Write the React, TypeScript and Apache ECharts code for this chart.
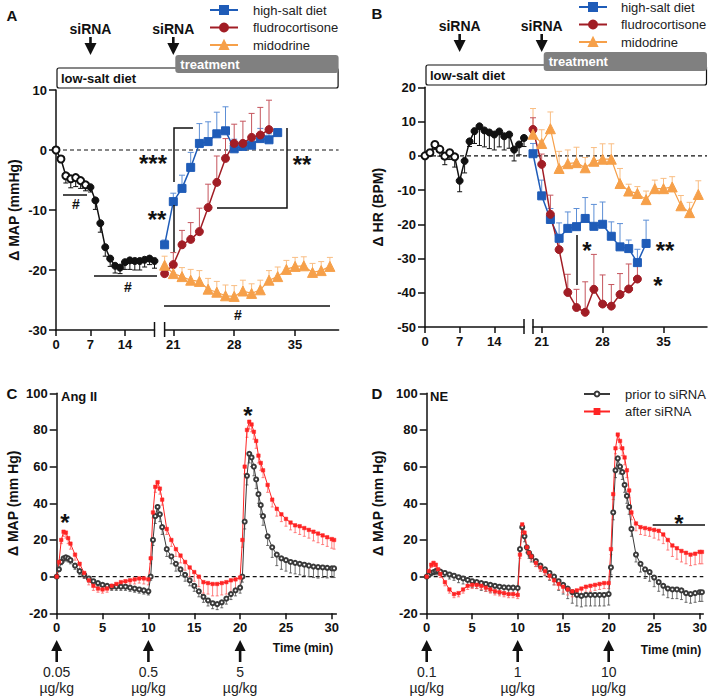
import React, { useEffect, useRef } from "react";
import * as echarts from "echarts";

const FONT = "'Liberation Sans', Arial, Helvetica, sans-serif";
const BLK = "#111111";
const BLUE = "#1f5cb8";
const BLUE_E = "#5d8fd6";
const RED = "#a11d25";
const RED_E = "#c5555d";
const ORANGE = "#f6a04a";
const ORANGE_E = "#f9bd82";
const GREY_LINE = "#3a3a3a";
const GREY_E = "#4a4a4a";
const BRED = "#ff2424";
const BRED_E = "#ff6262";

// ---------- Panel A: delta MAP (mmHg) ----------
const aPreDays = [0, 1, 2, 3, 4, 5, 6, 7, 8, 9, 10, 11, 12, 13, 14, 15, 16, 17, 18, 19, 20];
const aPre = [0, -1.5, -4.3, -4.8, -4.6, -5.1, -5.8, -6.2, -8.4, -12.2, -16.2, -18.1, -19.3, -19.6, -18.7, -18.4, -18.5, -18.5, -18.3, -18.1, -18.5];
const aPreErr = [0, -0.5, -1.2, -1.5, -1.5, -1.3, -1.0, -0.8, -1.5, -1.5, -1.5, -1.3, -1.2, -1.0, -1.2, -1.5, -1.5, -1.5, -1.2, -1.0, -1.2];
const aHsDays = [20, 21, 22, 23, 24, 25, 26, 27, 28, 29, 30, 31, 32, 33];
const aHs = [-15.8, -8.6, -6.4, -2.9, 1.1, 1.4, 2.7, 3.2, 0.2, 0.6, 0.8, 1.9, 1.7, 2.9];
const aHsErr = [0.8, 1.4, 2.2, 2.5, 3.3, 3.3, 3.6, 4.0, 1.6, 1.0, 1.0, 1.7, 1.0, 0.6];
const aFlDays = [20, 21, 22, 23, 24, 25, 26, 27, 28, 29, 30, 31, 32];
const aFl = [-20.6, -19.1, -15.8, -14.9, -13.6, -9.6, -5.4, -1.4, 1.1, 1.1, 2.1, 2.5, 3.4];
const aFlErr = [0.5, 2.0, 2.4, 2.8, 3.9, 3.9, 4.4, 3.3, 3.2, 3.7, 4.0, 4.6, 4.9];
const aMiDays = [20, 21, 22, 23, 24, 25, 26, 27, 28, 29, 30, 31, 32, 33, 34, 35, 36, 37, 38, 39];
const aMi = [-19.2, -20.6, -21.1, -21.7, -21.9, -23.2, -23.7, -24.3, -24.4, -23.5, -23.9, -23.3, -21.7, -21.1, -19.9, -19.4, -19.3, -20.4, -20.1, -19.4];
const aMiErr = [1.5, 1.5, 1.5, 1.8, 1.8, 1.8, 1.8, 1.8, 1.8, 1.8, 1.6, 1.6, 1.6, 1.6, 1.5, 1.5, 1.5, 1.5, 1.5, 1.5];

// ---------- Panel B: delta HR (BPM) ----------
const bPreDays = [0, 1, 2, 3, 4, 5, 6, 7, 8, 9, 10, 11, 12, 13, 14, 15, 16, 17, 18, 19, 20];
const bPre = [0, 0.9, 3.3, 1.9, -0.1, 0.9, -0.3, -7.3, -1.5, 4.2, 7.2, 8.6, 7.4, 6.8, 6.2, 7.1, 5.7, 6.2, 1.8, 3.3, 5.2];
const bPreErr = [0, -1, -1.5, -2, -2.5, -2, -3, -3.2, -3.5, -1.5, -3.6, -5.6, -4.8, -4.7, -4.5, -4.5, -4, -4, -3.3, -3, -2.5];
const bHsDays = [20, 21, 22, 23, 24, 25, 26, 27, 28, 29, 30, 31, 32, 33];
const bHs = [0.6, -11.7, -18.6, -24.1, -21.2, -20.7, -18.3, -20.6, -20, -23.5, -26.6, -27.1, -31.2, -25.6];
const bHsErr = [3, 4.6, 3.2, 4.5, 4.8, 5.3, 6.1, 6.4, 6.5, 4.2, 6.8, 2.5, 3.9, 6.8];
const bFlDays = [20, 21, 22, 23, 24, 25, 26, 27, 28, 29, 30, 31, 32];
const bFl = [7.7, -2.5, -17.1, -27.4, -39.9, -44.3, -45.7, -39, -43.3, -43.9, -40.5, -38.9, -36];
const bFlErr = [3.4, 3, 5.6, 4, 5.3, 5.3, 8.9, 10.2, 8.5, 6.3, 6.1, 7.3, 4.4];
const bMiDays = [20, 21, 22, 23, 24, 25, 26, 27, 28, 29, 30, 31, 32, 33, 34, 35, 36, 37, 38, 39];
const bMi = [6.3, 3.6, 7.9, -3.7, -2.3, -2, -3.5, -1.6, -1, -1, -8.1, -10.3, -11, -12.8, -9.6, -9.6, -9.1, -14.6, -16.6, -11.3];
const bMiErr = [7.5, 4, 4.9, 5, 4, 4.5, 3, 4, 4.5, 4.5, 4.4, 2, 2, 2.5, 2.5, 3, 3, 3, 3, 4];

// ---------- Panels C & D: time course (min) ----------
const tMin = [0, 0.25, 0.5, 0.75, 1, 1.25, 1.5,
  2, 2.5, 3, 3.5, 4, 4.5, 5, 5.5, 6, 6.5, 7, 7.5, 8, 8.5, 9, 9.5, 10,
  10.25, 10.5, 10.75, 11, 11.25, 11.5,
  12, 12.5, 13, 13.5, 14, 14.5, 15, 15.5, 16, 16.5, 17, 17.5, 18, 18.5, 19, 19.5, 20,
  20.25, 20.5, 20.75, 21, 21.25, 21.5, 21.75, 22, 22.25, 22.5,
  23, 23.5, 24, 24.5, 25, 25.5, 26, 26.5, 27, 27.5, 28, 28.5, 29, 29.5, 30, 30.25];

const cPrior = [0, 4, 8, 10, 10.5, 10, 9,
  6, 3, 1, -1, -2.5, -3.5, -4.5, -5, -5.5, -5.5, -5.5, -5.5, -6, -6.5, -7, -7.5, -8,
  0, 20, 33, 38, 34, 27,
  15, 11, 7, 4, 1, -2, -5, -8, -11, -13, -14.5, -15, -14, -12, -9.5, -7.5, -6,
  0, 30, 55, 67, 65, 60, 53, 45, 39, 33,
  22, 16, 12, 10, 9, 8, 7.5, 7, 6.5, 6, 5.5, 5.2, 5, 4.8, 4.5, 4.5];
const cPriorErr = [0, -1, -1.5, -2, -2, -2, -2,
  -2, -2, -2, -2, -2, -2, -2, -2, -2, -2, -2, -2, -2, -2, -2, -2, -2,
  -2, -3, -4, -4, -4, -4,
  -4, -4, -4, -3.5, -3.5, -3, -3, -3, -3, -3, -3, -3, -3, -3, -3, -3, -3,
  -3, -4, -5, -5, -5, -5, -5, -5, -5, -5,
  -5, -5.5, -6, -6, -6, -6, -6, -6, -6, -6, -6, -6, -5.5, -5.5, -5, -5];
const cAfter = [0, 8, 20, 24.5, 24, 21, 18,
  12, 7, 2, -2, -5, -6.5, -7, -6.5, -5, -4, -3, -2.5, -2, -1.5, -1, -1, -1.5,
  10, 35, 49, 51.5, 48, 42,
  26, 20, 15, 11.5, 8, 5, 2.5, 0, -3, -3.5, -4, -4, -3.5, -3, -2, -1.5, -0.5,
  20, 60, 80, 84.5, 83, 79, 74, 66, 62, 58,
  50, 42, 37, 34, 31.5, 29.5, 28, 27.5, 26.5, 25.5, 24.5, 23.5, 22.5, 21.5, 20.5, 20];
const cAfterErr = [0, -1.5, -2, -2.5, -3, -3, -3,
  -3, -3, -2.5, -2.5, -2.5, -2, -2, -2, -2, -2, -2, -2, -2, -2.5, -2.5, -3, -3,
  -3, -3, -3, -3, -3, -3,
  -3, -3.5, -4, -4, -4.5, -5, -5, -5.5, -6, -6, -6.5, -6.5, -6.5, -6.5, -6.5, -6.5, -6,
  -4, -4, -4, -4, -4, -4, -4, -4, -4, -4,
  -4, -4, -4, -4, -4, -4, -4, -4.5, -4.5, -4.5, -5, -5, -5, -5, -5, -5];

const dPrior = [0, 1, 2, 2.5, 3, 3, 2.8,
  2, 1.2, 0.5, -0.3, -1, -1.8, -2.5, -3, -3.5, -4, -4.5, -5, -5.5, -5.8, -6, -6, -6.2,
  15, 27, 22, 16, 13, 11,
  8.5, 6, 4, 2, 0, -2.5, -4.5, -6.5, -8.5, -10, -10.5, -10, -10, -10, -10, -10, -9.5,
  5, 35, 58, 64.5, 60, 57, 50, 44, 38, 26,
  12, 7, 4, 2.5, -0.5, -3, -5, -6.5, -7, -7, -7.5, -9, -9.5, -9, -8.5, -8.5];
const dPriorErr = [0, -1, -1.5, -1.5, -2, -2, -2,
  -2, -2.5, -2.5, -3, -3, -3, -3.5, -3.5, -4, -4, -4, -4, -4, -4, -4, -4, -4,
  -3, -3, -3, -3, -3, -3,
  -3, -3, -3.5, -4, -4.5, -5, -5, -5.5, -6, -6, -6, -6, -6, -6, -6, -6, -6,
  -4, -4, -4, -4, -4, -4, -4, -4, -4, -4,
  -4, -4.5, -5, -5, -5, -5, -5, -5, -5, -5, -5, -5, -5, -5, -5, -5];
const dAfter = [0, 3, 6.5, 7.5, 6.5, 4, 1.5,
  -3, -7, -9.5, -9, -7, -5, -4.5, -4.5, -5, -6, -7, -8, -8.5, -9, -9.5, -9.5, -10,
  12, 28.5, 24, 16, 13, 11,
  7.5, 5, 3, 0.5, -2, -4, -5.5, -7, -8, -7.5, -6.5, -5.5, -5, -4.5, -4, -3.5, -3.5,
  15, 45, 70, 77.5, 74, 70, 65, 58, 47, 35,
  29, 27, 26.5, 26, 25.5, 25, 23, 20, 17, 15.5, 14, 13, 12, 12.5, 13.5, 13.5];
const dAfterErr = [0, -1, -1.5, -2, -2, -2, -2,
  -2, -2, -2, -2, -2, -2, -2, -2, -2, -2, -2, -2, -2, -2, -2, -2, -2,
  -2, -2, -2, -2, -2, -2,
  -2, -2, -2, -2, -2.5, -3, -3, -3, -3, -3, -3, -3, -3, -3, -3, -3, -3,
  -3, -3, -3, -3, -4, -4, -4, -4, -4, -4,
  -4, -4, -4, -4, -4.5, -5, -5, -5.5, -6, -6, -6, -6, -6, -6, -6.5, -6.5];

// ---------- tick labels ----------
const dayTicksPre = [0, 7, 14];
const dayTicksPost = [21, 28, 35];
const timeTicks = [0, 5, 10, 15, 20, 25, 30];
const doseTimes = [0, 10, 20];
const cDoses = ["0.05", "0.5", "5"];
const dDoses = ["0.1", "1", "10"];
const siRNADays = [7, 21];
const groupNames = ["high-salt diet", "fludrocortisone", "midodrine"];
const timeNames = ["prior to siRNA", "after siRNA"];

// ---------- helpers ----------
const zip = (xs: number[], ys: number[]) => xs.map((x, i) => [x, ys[i]]);

function errSeries(gi: number, xs: number[], ys: number[], es: number[], color: string, cap: number, lw: number) {
  return {
    type: "custom",
    name: "err" + gi + color,
    xAxisIndex: gi,
    yAxisIndex: gi,
    silent: true,
    z: 3,
    clip: false,
    encode: { x: 0, y: 1 },
    data: xs.map((x, i) => [x, ys[i], es[i]]),
    renderItem: (params: any, api: any) => {
      const x = api.value(0);
      const y = api.value(1);
      const e = api.value(2);
      const p0 = api.coord([x, y]);
      const p1 = api.coord([x, y + e]);
      const st = { stroke: color, lineWidth: lw };
      return {
        type: "group",
        children: [
          { type: "line", shape: { x1: p0[0], y1: p0[1], x2: p1[0], y2: p1[1] }, style: st },
          { type: "line", shape: { x1: p1[0] - cap, y1: p1[1], x2: p1[0] + cap, y2: p1[1] }, style: st },
        ],
      };
    },
  };
}

function lineSeries(name: string, gi: number, xs: number[], ys: number[], color: string, symbol: any, size: number, lw: number, borderW = 1) {
  return {
    type: "line",
    name,
    xAxisIndex: gi,
    yAxisIndex: gi,
    data: zip(xs, ys),
    symbol,
    symbolSize: size,
    showSymbol: true,
    lineStyle: { color, width: lw },
    itemStyle: { color, borderColor: color, borderWidth: borderW },
    z: 4,
    silent: true,
    emphasis: { disabled: true },
  };
}

const axisLineStyle = { color: BLK, width: 1.5 };
const labelStyle = { color: BLK, fontFamily: FONT, fontWeight: "bold", fontSize: 13 };

function xAxisDef(gi: number, min: number, max: number, ticks: number[]) {
  return {
    gridIndex: gi,
    type: "value",
    min,
    max,
    axisLine: { show: true, onZero: false, lineStyle: axisLineStyle },
    axisTick: { show: true, length: 6, lineStyle: axisLineStyle, customValues: ticks },
    axisLabel: { ...labelStyle, margin: 8, customValues: ticks },
    splitLine: { show: false },
  };
}

function yAxisDef(gi: number, min: number, max: number, interval: number, name: string, nameGap: number, show = true) {
  return {
    gridIndex: gi,
    type: "value",
    show,
    min,
    max,
    interval,
    name,
    nameLocation: "middle",
    nameGap,
    nameTextStyle: { fontFamily: FONT, fontWeight: "bold", fontSize: 14, color: BLK },
    axisLine: { show: true, onZero: false, lineStyle: axisLineStyle },
    axisTick: { show: true, length: 7, lineStyle: axisLineStyle },
    axisLabel: { ...labelStyle, margin: 9 },
    splitLine: { show: false },
  };
}

function gridDef(left: number, top: number, width: number, height: number) {
  return { left, top, width, height, containLabel: false, outerBoundsMode: "none" };
}

function legendDef(names: string[], left: number, top: number, itemWidth: number, itemHeight: number, padLeft: number) {
  return {
    data: names,
    left,
    top,
    orient: "vertical",
    padding: 0,
    itemWidth,
    itemHeight,
    itemGap: 4.5,
    selectedMode: false,
    textStyle: { fontFamily: FONT, fontSize: 13, color: "#222", padding: [0, 0, 0, padLeft] },
  };
}

const txt = (text: string, x: number, y: number, size: number, weight = "bold", align = "center", color = BLK) => ({
  type: "text",
  x,
  y,
  z: 20,
  silent: true,
  style: { text, font: `${weight} ${size}px ${FONT}`, fill: color, textAlign: align, textVerticalAlign: "middle", align, verticalAlign: "middle" },
});
const star = (text: string, x: number, y: number, size = 24) => txt(text, x, y + size * 0.22, size);
const seg = (x1: number, y1: number, x2: number, y2: number, lw = 1.5, color = BLK) => ({
  type: "line",
  z: 20,
  silent: true,
  shape: { x1, y1, x2, y2 },
  style: { stroke: color, lineWidth: lw },
});
const poly = (points: number[][], lw = 1.5) => ({
  type: "polyline",
  z: 20,
  silent: true,
  shape: { points },
  style: { stroke: BLK, lineWidth: lw, fill: null },
});
function arrow(x: number, yTail: number, yTip: number, headLen: number, headW: number, lw: number) {
  const dir = Math.sign(yTip - yTail);
  const hb = yTip - dir * headLen;
  return [
    seg(x, yTail, x, hb + dir * 1, lw),
    { type: "polygon", z: 20, silent: true, shape: { points: [[x - headW / 2, hb], [x + headW / 2, hb], [x, yTip]] }, style: { fill: BLK } },
  ];
}
const dashed = (p0: number[], p1: number[]) => ({
  type: "line",
  z: 1,
  silent: true,
  shape: { x1: p0[0], y1: p0[1], x2: p1[0], y2: p1[1] },
  style: { stroke: BLK, lineWidth: 1.2, lineDash: [4, 3] },
});

function buildOption() {
  const series: any[] = [
    // Panel A
    errSeries(0, aPreDays, aPre, aPreErr, BLK, 2.5, 1),
    lineSeries("A-baseline", 0, aPreDays, aPre, BLK, (v: any, p: any) => (p.dataIndex < 7 ? "emptyCircle" : "circle"), 7, 1.5),
    errSeries(1, aMiDays, aMi, aMiErr, ORANGE_E, 3, 1),
    errSeries(1, aHsDays, aHs, aHsErr, BLUE_E, 3, 1),
    errSeries(1, aFlDays, aFl, aFlErr, RED_E, 3, 1),
    lineSeries(groupNames[0], 1, aHsDays, aHs, BLUE, "rect", 8, 1.5),
    lineSeries(groupNames[1], 1, aFlDays, aFl, RED, "circle", 8, 1.5),
    lineSeries(groupNames[2], 1, aMiDays, aMi, ORANGE, "triangle", 10, 1.2),
    // Panel B
    errSeries(2, bPreDays, bPre, bPreErr, BLK, 2.5, 1),
    lineSeries("B-baseline", 2, bPreDays, bPre, BLK, (v: any, p: any) => (p.dataIndex < 7 ? "emptyCircle" : "circle"), 7, 1.5),
    errSeries(3, bMiDays, bMi, bMiErr, ORANGE_E, 3, 1),
    errSeries(3, bHsDays, bHs, bHsErr, BLUE_E, 3, 1),
    errSeries(3, bFlDays, bFl, bFlErr, RED_E, 3, 1),
    lineSeries(groupNames[0], 3, bHsDays, bHs, BLUE, "rect", 8, 1.5),
    lineSeries(groupNames[1], 3, bFlDays, bFl, RED, "circle", 8, 1.5),
    lineSeries(groupNames[2], 3, bMiDays, bMi, ORANGE, "triangle", 10, 1.2),
    // Panel C
    errSeries(4, tMin, cPrior, cPriorErr, GREY_E, 1.5, 0.8),
    errSeries(4, tMin, cAfter, cAfterErr, BRED_E, 1.5, 0.8),
    lineSeries(timeNames[0], 4, tMin, cPrior, GREY_LINE, "emptyCircle", 4, 1, 0.8),
    lineSeries(timeNames[1], 4, tMin, cAfter, BRED, "rect", 3.5, 1, 0.5),
    // Panel D
    errSeries(5, tMin, dPrior, dPriorErr, GREY_E, 1.5, 0.8),
    errSeries(5, tMin, dAfter, dAfterErr, BRED_E, 1.5, 0.8),
    lineSeries(timeNames[0], 5, tMin, dPrior, GREY_LINE, "emptyCircle", 4, 1, 0.8),
    lineSeries(timeNames[1], 5, tMin, dAfter, BRED, "rect", 3.5, 1, 0.5),
  ];
  return {
    animation: false,
    backgroundColor: "#ffffff",
    textStyle: { fontFamily: FONT },
    grid: [
      gridDef(56, 90, 98.5, 240),
      gridDef(164.6, 90, 174, 240),
      gridDef(425, 87.3, 99, 239.7),
      gridDef(533, 87.3, 174, 239.7),
      gridDef(56.7, 393.3, 279.7, 220),
      gridDef(426.7, 393.3, 276.6, 220),
    ],
    xAxis: [
      xAxisDef(0, 0, 20, dayTicksPre),
      xAxisDef(1, 20, 40, dayTicksPost),
      xAxisDef(2, 0, 20, dayTicksPre),
      xAxisDef(3, 20, 40, dayTicksPost),
      xAxisDef(4, 0, 30.5, timeTicks),
      xAxisDef(5, 0, 30.4, timeTicks),
    ],
    yAxis: [
      yAxisDef(0, -30, 10, 10, "Δ MAP (mmHg)", 35),
      yAxisDef(1, -30, 10, 10, "", 0, false),
      yAxisDef(2, -50, 20, 10, "Δ HR (BPM)", 40),
      yAxisDef(3, -50, 20, 10, "", 0, false),
      yAxisDef(4, -20, 100, 20, "Δ MAP (mm Hg)", 37),
      yAxisDef(5, -20, 100, 20, "Δ MAP (mm Hg)", 42),
    ],
    legend: [
      legendDef(groupNames, 209, 3.5, 28, 10, 10),
      legendDef(groupNames, 578, 0.5, 28, 10, 9),
      legendDef(timeNames, 583, 387.5, 26, 6, 10),
    ],
    series,
  };
}

function buildGraphics(px: (gi: number, x: number, y: number) => number[]) {
  const els: any[] = [];
  // panel letters
  els.push(txt("A", 12, 15, 15), txt("B", 377, 13, 15), txt("C", 12, 393, 15), txt("D", 377, 393, 15));

  // zero dashed lines
  els.push(dashed(px(0, 0, 0), px(1, 40, 0)));
  els.push(dashed(px(2, 0, 0), px(3, 40, 0)));
  els.push(dashed(px(4, 0, 0), px(4, 30.5, 0)));
  els.push(dashed(px(5, 0, 0), px(5, 30.4, 0)));

  // axis breaks
  for (const [gPre, gPost] of [[0, 1], [2, 3]]) {
    const a = px(gPre, 20, gPre === 0 ? -30 : -50);
    const b = px(gPost, 20, gPost === 1 ? -30 : -50);
    els.push(seg(a[0], a[1] - 8, a[0], a[1] + 7, 1.5));
    els.push(seg(b[0], b[1] - 8, b[0], b[1] + 7, 1.5));
  }

  // Panel A / B headers
  const headers = [
    { gPre: 0, gPost: 1, textY: 29, arrowTop: 37, arrowTip: 55, boxTop: 68, boxH: 20, trTop: 55, trH: 18 },
    { gPre: 2, gPost: 3, textY: 26, arrowTop: 34, arrowTip: 52, boxTop: 65, boxH: 20, trTop: 52, trH: 19 },
  ];
  for (const h of headers) {
    const xs = [px(h.gPre, siRNADays[0], 0)[0], px(h.gPost, siRNADays[1], 0)[0]];
    for (const x of xs) {
      els.push(txt("siRNA", x, h.textY, 14));
      els.push(...arrow(x, h.arrowTop, h.arrowTip, 12, 12, 2.6));
    }
    const left = px(h.gPre, 0, 0)[0] + 1;
    const right = px(h.gPost, 40, 0)[0] - 0.5;
    els.push({ type: "rect", z: 15, silent: true, shape: { x: left, y: h.boxTop, width: right - left, height: h.boxH, r: 2 }, style: { fill: "#ffffff", stroke: BLK, lineWidth: 1.2 } });
    els.push(txt("low-salt diet", left + 4, h.boxTop + h.boxH / 2, 13, "bold", "left"));
    const tl = xs[1] + 2;
    els.push({ type: "rect", z: 16, silent: true, shape: { x: tl, y: h.trTop, width: right - tl + 0.5, height: h.trH, r: 3 }, style: { fill: "#808080" } });
    els.push(txt("treatment", tl + 5, h.trTop + h.trH / 2, 13, "bold", "left", "#ffffff"));
  }

  // Panel A annotations
  els.push(seg(63, 195, 87, 195), txt("#", 76, 204, 14));
  els.push(seg(94, 276, 157, 276), txt("#", 128, 287, 14));
  els.push(seg(164, 306, 330, 306), txt("#", 238, 315, 14));
  els.push(poly([[193, 128], [174, 128], [174, 182]]));
  els.push(seg(174, 205, 174, 252));
  els.push(star("***", 153, 158), star("**", 157, 214));
  els.push(poly([[287, 128], [287, 208], [217, 208]]));
  els.push(star("**", 302, 159));

  // Panel B annotations
  els.push(seg(577, 235, 577, 285));
  els.push(star("*", 587, 245), star("**", 665, 245), star("*", 658, 280));

  // Panel C/D annotations
  els.push(txt("Ang II", 61, 396, 13, "bold", "left"), txt("NE", 430, 396, 13, "bold", "left"));
  els.push(star("*", 65, 517), star("*", 248, 410));
  els.push(seg(652.7, 525, 705, 525), star("*", 679, 518));

  // dose arrows
  const doseSets = [{ gi: 4, labels: cDoses }, { gi: 5, labels: dDoses }];
  for (const ds of doseSets) {
    doseTimes.forEach((t, i) => {
      const x = px(ds.gi, t, 0)[0];
      els.push(...arrow(x, 662, 640, 11, 11, 2.6));
      els.push(txt(ds.labels[i], x, 671.5, 14, "normal", "center", "#222"));
      els.push(txt("µg/kg", x, 688, 14, "normal", "center", "#222"));
    });
  }
  els.push(txt("Time (min)", 303, 648, 12), txt("Time (min)", 671, 650, 12));
  return els;
}

export default function App() {
  const ref = useRef<HTMLDivElement>(null);
  useEffect(() => {
    if (!ref.current) return;
    const chart = echarts.init(ref.current, null, { renderer: "svg" });
    chart.setOption(buildOption() as any);
    const px = (gi: number, x: number, y: number) => chart.convertToPixel({ gridIndex: gi } as any, [x, y]) as number[];
    chart.setOption({ graphic: { elements: buildGraphics(px) } } as any);
    return () => chart.dispose();
  }, []);
  return (
    <div
      ref={ref}
      style={{ position: "fixed", left: 0, top: 0, width: 709, height: 696, background: "#fff" }}
    />
  );
}
